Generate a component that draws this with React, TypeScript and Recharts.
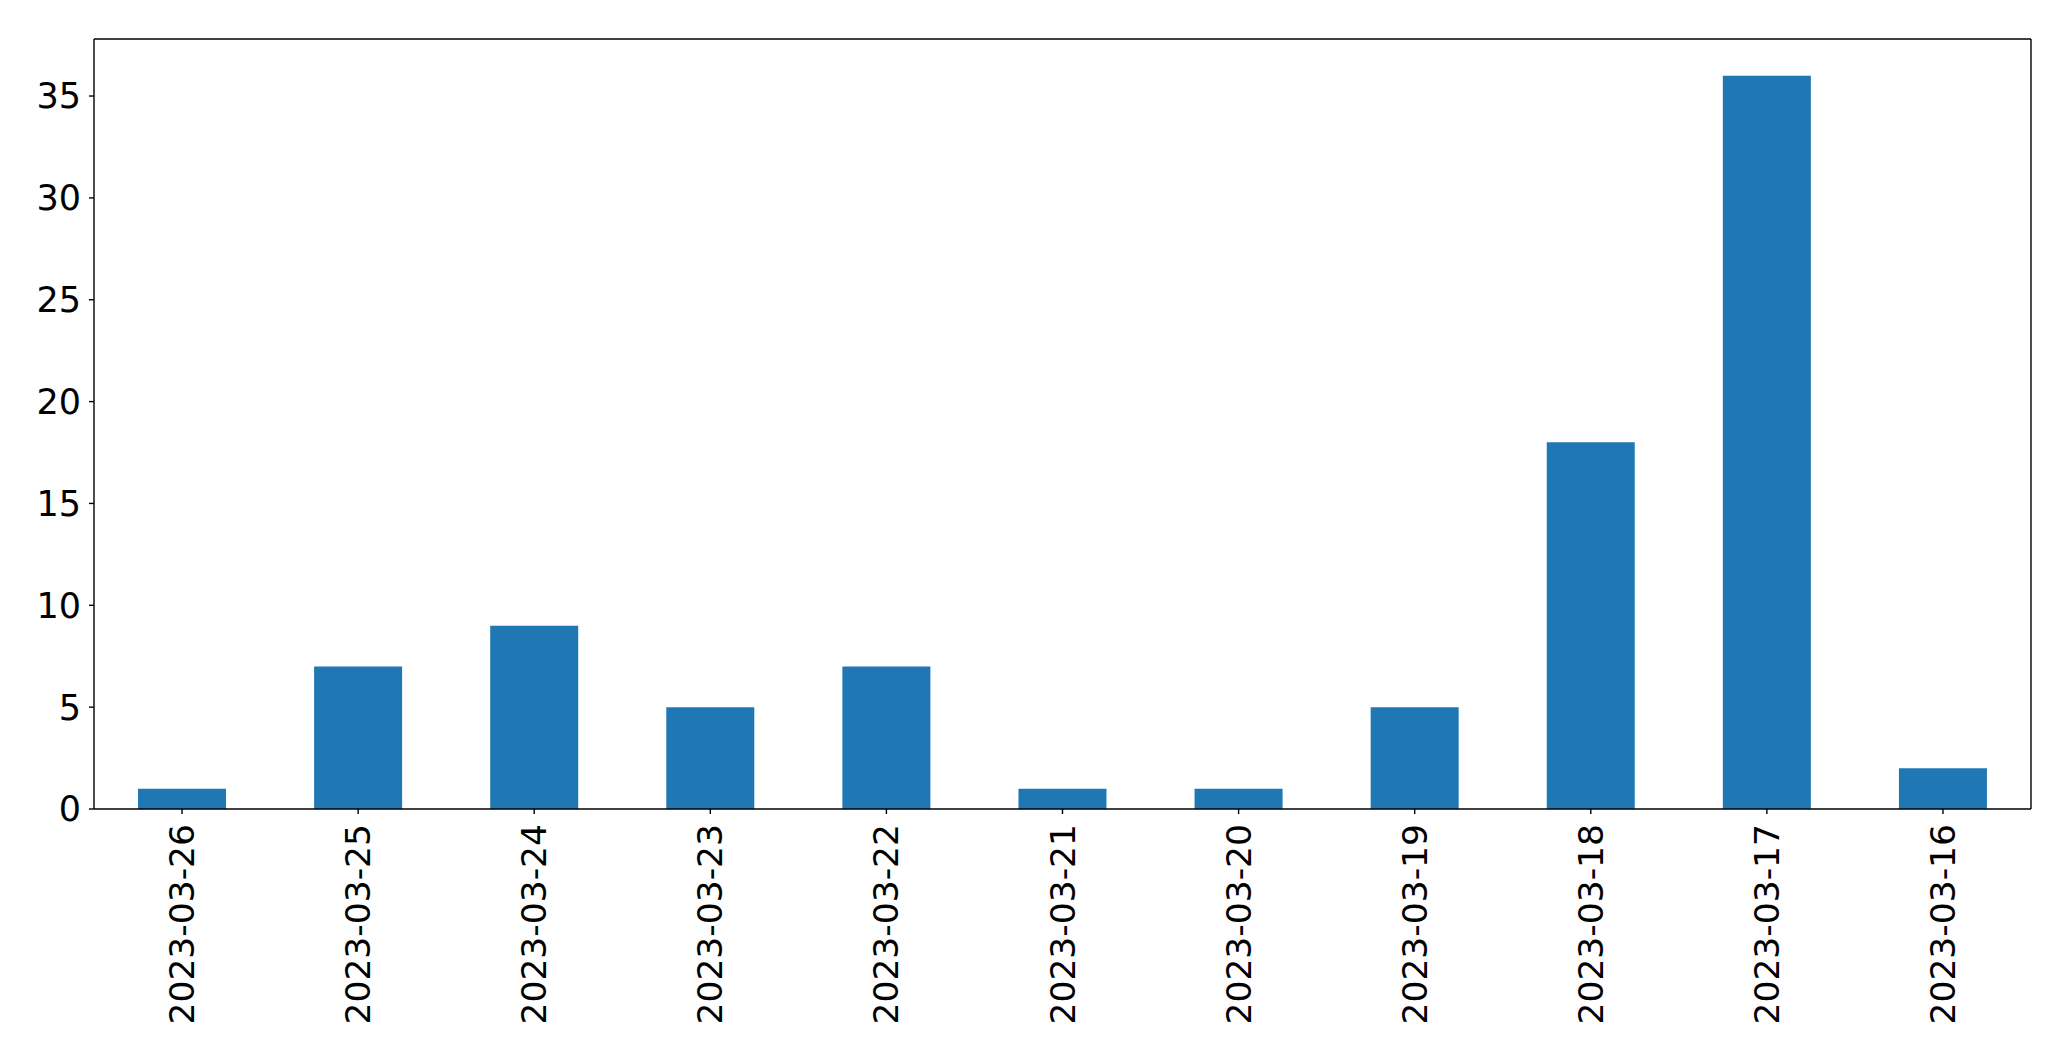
import React from "react";
import { BarChart, Bar, XAxis, YAxis } from "recharts";

const dates = [
  "2023-03-26",
  "2023-03-25",
  "2023-03-24",
  "2023-03-23",
  "2023-03-22",
  "2023-03-21",
  "2023-03-20",
  "2023-03-19",
  "2023-03-18",
  "2023-03-17",
  "2023-03-16",
];
const counts = [1, 7, 9, 5, 7, 1, 1, 5, 18, 36, 2];
const yTicks = [0, 5, 10, 15, 20, 25, 30, 35];

const data = dates.map((d, i) => ({ date: d, count: counts[i] }));

const FONT = "'DejaVu Sans', sans-serif";

const XTick = (props: any) => {
  const { x, y, payload } = props;
  return (
    <text
      x={x}
      y={y}
      transform={`rotate(-90, ${x}, ${y})`}
      textAnchor="end"
      dominantBaseline="central"
      fontFamily={FONT}
      fontSize={34.5}
      fill="#000"
    >
      {payload.value}
    </text>
  );
};

export default function App() {
  return (
    <div style={{ position: "absolute", left: 0, top: 0, background: "#fff" }}>
      <BarChart
        width={2071}
        height={1061}
        data={data}
        margin={{ top: 38, right: 39, bottom: 0, left: 0 }}
        barCategoryGap="25%"
      >
        <XAxis
          xAxisId="main"
          dataKey="date"
          height={252}
          interval={0}
          tickSize={5}
          tickMargin={10}
          tick={<XTick />}
          axisLine={{ stroke: "#000", strokeWidth: 1.4 }}
          tickLine={{ stroke: "#000", strokeWidth: 1.4 }}
        />
        <XAxis
          xAxisId="top"
          dataKey="date"
          orientation="top"
          height={1}
          tick={false}
          tickLine={false}
          axisLine={{ stroke: "#000", strokeWidth: 1.4 }}
        />
        <YAxis
          yAxisId="main"
          type="number"
          domain={[0, 37.8]}
          ticks={yTicks}
          width={94}
          tickSize={5}
          tickMargin={8}
          interval={0}
          tick={{ fontFamily: FONT, fontSize: 35, fill: "#000" }}
          axisLine={{ stroke: "#000", strokeWidth: 1.4 }}
          tickLine={{ stroke: "#000", strokeWidth: 1.4 }}
        />
        <YAxis
          yAxisId="right"
          orientation="right"
          type="number"
          domain={[0, 37.8]}
          width={1}
          tick={false}
          tickLine={false}
          axisLine={{ stroke: "#000", strokeWidth: 1.4 }}
        />
        <Bar
          xAxisId="main"
          yAxisId="main"
          dataKey="count"
          fill="#1f77b4"
          isAnimationActive={false}
        />
      </BarChart>
    </div>
  );
}
